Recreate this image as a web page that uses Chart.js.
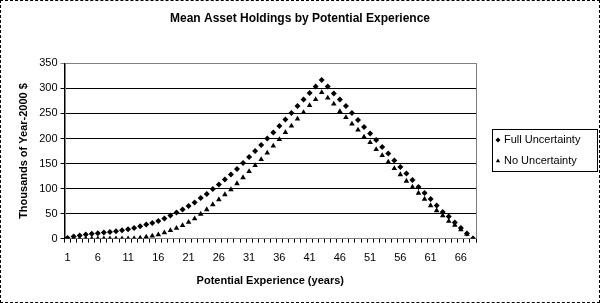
<!DOCTYPE html>
<html>
<head>
<meta charset="utf-8">
<script src="https://cdn.jsdelivr.net/npm/chart.js@4.4.1/dist/chart.umd.min.js"></script>
<style>
  html, body { margin: 0; padding: 0; background: #fff; }
  #wrap { width: 600px; height: 303px; box-sizing: border-box; border: 1px dashed #000; }
  #wrap canvas { display: block; }
</style>
</head>
<body>
<div id="wrap"><canvas id="grafico" width="598" height="301"></canvas></div>
<script>
// anos de experiencia potencial 1..68
const anos = [];
for (let i = 1; i <= 68; i++) anos.push(String(i));

const incertezaTotal = [
  1, 4, 6, 8, 9.5, 10.5, 12, 13, 14.5, 16.5,
  18.5, 21, 24.5, 28, 31, 35, 40, 46, 52, 58,
  65, 72, 81, 89, 99, 108, 118, 128, 139, 151,
  163, 175, 187, 200, 212, 225, 238, 251, 265, 278,
  291, 304, 317, 304, 290, 278, 265, 251, 237, 223,
  210, 197, 183, 170, 156, 143, 130, 117, 103, 91,
  79, 66, 53, 44, 32, 21, 10, 0
];

const semIncerteza = [
  0, 0, 0, 0, 0, 0, 0, 0, 0, 0,
  0, 0.5, 1.5, 3.5, 5.5, 8, 12, 16.5, 21, 26.5,
  33, 40, 49, 58, 68, 78, 88, 98, 110, 122,
  134, 146, 158, 171, 185, 198, 212, 225, 239, 252,
  266, 278, 292, 281, 269, 254, 242, 229, 217, 203,
  192, 178, 166, 153, 140, 128, 115, 103, 91, 79,
  66, 56, 46, 35, 27, 18, 9, 0
];

const ticksY = [0, 50, 100, 150, 200, 250, 300, 350];

const fonte = 'Liberation Sans, Arial, sans-serif';

// moldura cinza da area do grafico + legenda desenhada a mao (caixa com borda)
const molduras = {
  id: 'molduras',
  beforeDatasetsDraw(chart) {
    const a = chart.chartArea, c = chart.ctx;
    c.save();
    c.strokeStyle = '#808080';
    c.lineWidth = 1;
    c.strokeRect(Math.round(a.left) + 0.5, Math.round(a.top) + 0.5,
                 Math.round(a.right - a.left), Math.round(a.bottom - a.top));
    c.restore();
  },
  afterDraw(chart) {
    const a = chart.chartArea, c = chart.ctx;
    const x0 = Math.round(a.right) + 16;
    const yMeio = Math.round((a.top + a.bottom) / 2);
    const y0 = yMeio - 22;
    c.save();
    c.strokeStyle = '#000';
    c.lineWidth = 1;
    c.strokeRect(x0 + 0.5, y0 + 0.5, 105, 42);
    c.font = '11px ' + fonte;
    c.fillStyle = '#000';
    c.textBaseline = 'middle';
    chart.data.datasets.forEach((ds, i) => {
      const yy = y0 + 11 + i * 21;
      Chart.helpers.drawPoint(c, {
        pointStyle: ds.pointStyle, radius: 2.5, borderWidth: 0
      }, x0 + 6, yy);
      c.fillText(ds.label, x0 + 12, yy);
    });
    c.restore();
  }
};

new Chart(document.getElementById('grafico').getContext('2d'), {
  type: 'line',
  data: {
    labels: anos,
    datasets: [
      {
        label: 'Full Uncertainty',
        data: incertezaTotal,
        showLine: false,
        pointStyle: 'rectRot',
        pointRadius: 3,
        backgroundColor: '#000',
        borderColor: '#000',
        borderWidth: 0
      },
      {
        label: 'No Uncertainty',
        data: semIncerteza,
        showLine: false,
        pointStyle: 'triangle',
        pointRadius: 3.2,
        backgroundColor: '#000',
        borderColor: '#000',
        borderWidth: 0
      }
    ]
  },
  plugins: [molduras],
  options: {
    responsive: false,
    animation: false,
    layout: { padding: { left: 0, right: 0, top: 0, bottom: 14 } },
    plugins: {
      tooltip: { enabled: false },
      legend: { display: false },
      title: {
        display: true,
        text: 'Mean Asset Holdings by Potential Experience',
        color: '#000',
        font: { family: fonte, size: 12, weight: 'bold' },
        padding: { top: 10, bottom: 38 }
      }
    },
    scales: {
      x: {
        offset: true,
        grid: {
          offset: true,
          drawOnChartArea: false,
          color: '#000',
          tickLength: 4
        },
        border: { color: '#000' },
        ticks: {
          autoSkip: false,
          maxRotation: 0,
          color: '#000',
          font: { family: fonte, size: 11 },
          padding: 9,
          callback: function (v, i) { return i % 5 === 0 ? anos[i] : ''; }
        },
        title: {
          display: true,
          text: 'Potential Experience (years)',
          color: '#000',
          font: { family: fonte, size: 11, weight: 'bold' },
          padding: { top: 1, bottom: 0 }
        }
      },
      y: {
        min: 0,
        max: 350,
        afterBuildTicks: function (s) { s.ticks = ticksY.map(v => ({ value: v })); },
        grid: {
          color: ctx => ctx.tick && ctx.tick.value === 350 ? '#808080' : '#000',
          tickLength: 4
        },
        border: { color: '#000' },
        ticks: {
          color: '#000',
          font: { family: fonte, size: 11 },
          padding: 3
        },
        title: {
          display: true,
          text: 'Thousands of Year-2000 $',
          color: '#000',
          font: { family: fonte, size: 11, weight: 'bold' },
          padding: { top: 16, bottom: 6 }
        }
      },
      // eixo vazio a direita so para reservar o espaco da legenda
      espaco: {
        type: 'linear',
        position: 'right',
        display: true,
        grid: { display: false, drawTicks: false },
        border: { display: false },
        ticks: { display: false },
        afterFit: function (s) { s.width = 123; }
      }
    }
  }
});
</script>
</body>
</html>
